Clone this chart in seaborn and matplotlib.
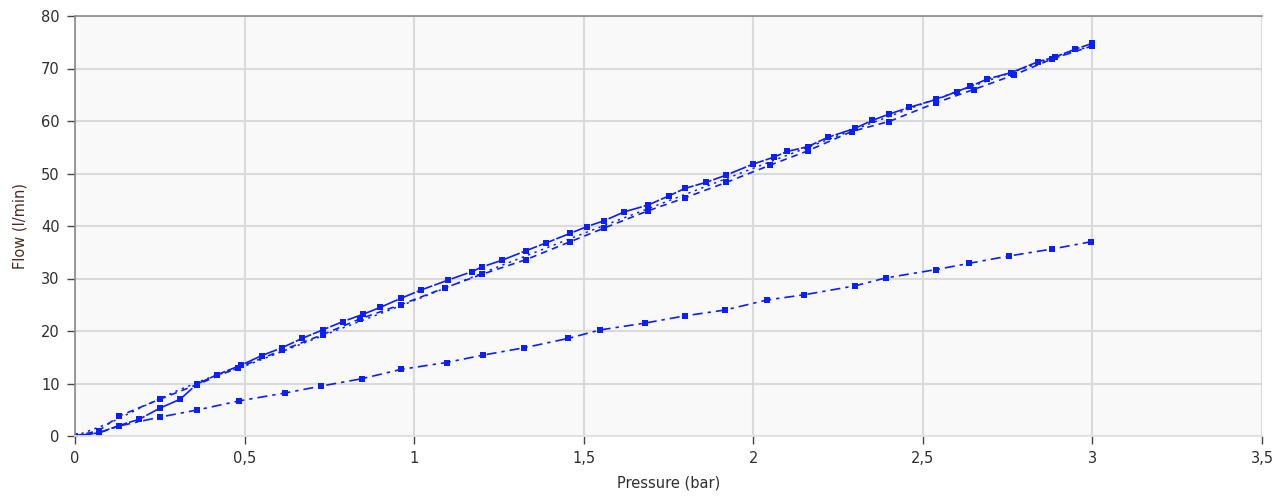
import matplotlib
matplotlib.use("Agg")
import matplotlib.pyplot as plt
from matplotlib.ticker import FuncFormatter, MultipleLocator
import seaborn as sns

# ── Data ─────────────────────────────────────────────────────────────────────
a_pressure = [0, 0.07, 0.13, 0.19, 0.25, 0.31, 0.36, 0.42, 0.49, 0.55,
              0.61, 0.67, 0.73, 0.79, 0.85, 0.90, 0.96, 1.02, 1.10, 1.17,
              1.20, 1.26, 1.33, 1.39, 1.46, 1.51, 1.56, 1.62, 1.69, 1.75,
              1.80, 1.86, 1.92, 2.00, 2.06, 2.10, 2.16, 2.22, 2.30, 2.35,
              2.40, 2.46, 2.54, 2.60, 2.64, 2.69, 2.76, 2.84, 2.89, 2.95, 3.00]
a_flow = [0, 0.6, 2.0, 3.2, 5.3, 7.0, 9.9, 11.7, 13.5, 15.3,
          16.8, 18.6, 20.2, 21.8, 23.2, 24.5, 26.2, 27.8, 29.7, 31.3,
          32.2, 33.5, 35.3, 36.8, 38.6, 39.9, 41.0, 42.7, 44.0, 45.7,
          47.2, 48.3, 49.7, 51.8, 53.1, 54.2, 55.1, 56.9, 58.6, 60.1,
          61.3, 62.6, 64.1, 65.6, 66.6, 68.0, 69.2, 71.3, 72.2, 73.7, 74.8]

b_pressure = [0, 0.07, 0.13, 0.25, 0.36, 0.48, 0.61, 0.73, 0.84, 0.96,
              1.09, 1.20, 1.33, 1.46, 1.56, 1.69, 1.80, 1.92, 2.05, 2.16,
              2.29, 2.40, 2.54, 2.65, 2.77, 2.88, 3.00]
b_flow = [0, 1.0, 3.8, 7.0, 9.8, 13.0, 16.3, 19.3, 22.3, 25.0,
          28.2, 30.8, 33.6, 37.0, 39.6, 42.9, 45.4, 48.3, 51.6, 54.3,
          58.0, 59.9, 63.5, 66.0, 68.8, 71.8, 74.3]

c_pressure = [0, 0.10, 0.20, 0.30, 0.40, 0.50, 0.75, 1.00, 1.25, 1.50,
              1.75, 2.00, 2.25, 2.50, 2.75, 3.00]
c_flow = [0, 2.4, 5.6, 8.6, 11.2, 13.3, 19.6, 25.8, 32.3, 38.6,
          44.8, 51.0, 57.2, 63.3, 69.0, 74.4]

d_pressure = [0, 0.07, 0.13, 0.25, 0.36, 0.485, 0.62, 0.725, 0.845, 0.962,
              1.096, 1.202, 1.324, 1.455, 1.548, 1.68, 1.80, 1.917, 2.04,
              2.15, 2.30, 2.39, 2.539, 2.637, 2.755, 2.88, 2.996]
d_flow = [0, 0.6, 1.9, 3.6, 4.95, 6.7, 8.2, 9.5, 10.9, 12.7, 14.0, 15.4,
          16.8, 18.6, 20.2, 21.5, 22.9, 24.0, 25.9, 26.9, 28.6, 30.1, 31.7,
          32.9, 34.3, 35.6, 37.0]

x_ticks = [0, 0.5, 1, 1.5, 2, 2.5, 3, 3.5]

BLUE = "#0a1eff"
TEXT = "#2e2e2e"

# ── Figure ───────────────────────────────────────────────────────────────────
sns.set_theme(style="whitegrid")
plt.rcParams["font.family"] = ["DejaVu Sans"]

fig = plt.figure(figsize=(12.79, 5.03), dpi=100)
ax = fig.add_axes([75 / 1279, 1 - 436 / 503, (1262 - 75) / 1279, (436 - 16) / 503])
ax.set_facecolor("#f9f9f9")

common = dict(ax=ax, color=BLUE, linewidth=1.2, marker="s",
              markersize=3.8, markeredgewidth=0, sort=False)

sns.lineplot(x=a_pressure, y=a_flow, linestyle=(0, (10, 1.2)), **common)
sns.lineplot(x=b_pressure, y=b_flow, linestyle=(0, (4, 3)), **common)
sns.lineplot(x=c_pressure, y=c_flow, ax=ax, color=BLUE, linewidth=1.1,
             linestyle=(0, (1.5, 3)), sort=False)
sns.lineplot(x=d_pressure, y=d_flow, linestyle=(0, (6, 3, 2, 3)), **common)

# ── Axes styling ─────────────────────────────────────────────────────────────
ax.set_xlim(0, 3.5)
ax.set_ylim(0, 80)
ax.set_xticks(x_ticks)
ax.xaxis.set_major_formatter(FuncFormatter(lambda v, _: f"{v:g}".replace(".", ",")))
ax.yaxis.set_major_locator(MultipleLocator(10))

ax.grid(True, color="#dadada", linewidth=1.5)
ax.tick_params(axis="both", which="major", direction="out", length=6, width=1,
               color="#444444", labelsize=10.5, labelcolor=TEXT, pad=5,
               bottom=True, left=True)

for side in ("left", "top"):
    ax.spines[side].set_visible(True)
    ax.spines[side].set_color("#8a8a8a")
    ax.spines[side].set_linewidth(1.2)
ax.spines["bottom"].set_color("#e0e0e0")
ax.spines["right"].set_visible(False)

ax.set_xlabel("Pressure (bar)", fontsize=10.5, color=TEXT, labelpad=7)
ax.set_ylabel("Flow (l/min)", fontsize=10.5, color="#4a2a20", labelpad=10)

fig.savefig("out.png", dpi=100, facecolor="white")
